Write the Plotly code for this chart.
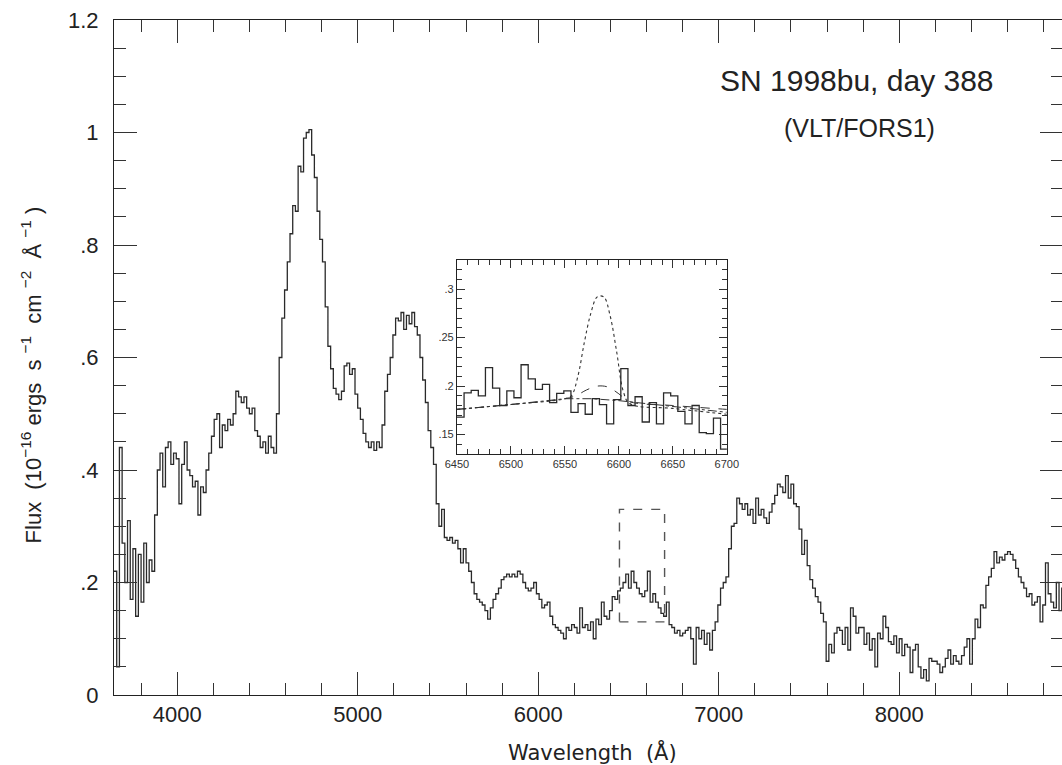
import numpy as np
import plotly.graph_objects as go

# ---------------- data ----------------
WAVE_START = 3650          # Angstrom, left edge of first bin
BIN_WIDTH = 15             # Angstrom
flux = [
    0.22, 0.05, 0.44, 0.27, 0.20, 0.31, 0.17, 0.26, 0.14, 0.25,
    0.165, 0.27, 0.20, 0.24, 0.22, 0.32, 0.40, 0.43, 0.37, 0.44,
    0.45, 0.41, 0.43, 0.42, 0.34, 0.41, 0.45, 0.40, 0.39, 0.37,
    0.38, 0.32, 0.37, 0.36, 0.40, 0.43, 0.46, 0.49, 0.50, 0.44,
    0.48, 0.47, 0.49, 0.48, 0.50, 0.54, 0.53, 0.52, 0.53, 0.51,
    0.50, 0.51, 0.47, 0.46, 0.44, 0.45, 0.43, 0.46, 0.44, 0.43,
    0.50, 0.60, 0.67, 0.72, 0.77, 0.82, 0.87, 0.86, 0.94, 0.93,
    0.99, 1.00, 1.005, 0.96, 0.92, 0.86, 0.81, 0.77, 0.69, 0.62,
    0.58, 0.545, 0.535, 0.525, 0.54, 0.585, 0.59, 0.57, 0.58, 0.535,
    0.51, 0.49, 0.465, 0.45, 0.44, 0.45, 0.435, 0.45, 0.44, 0.48,
    0.54, 0.57, 0.60, 0.64, 0.67, 0.665, 0.68, 0.65, 0.675, 0.66,
    0.68, 0.655, 0.64, 0.60, 0.56, 0.52, 0.47, 0.44, 0.41, 0.34,
    0.30, 0.33, 0.28, 0.275, 0.28, 0.27, 0.275, 0.26, 0.235, 0.26,
    0.235, 0.22, 0.20, 0.18, 0.17, 0.165, 0.16, 0.15, 0.135, 0.155,
    0.17, 0.18, 0.19, 0.205, 0.21, 0.215, 0.21, 0.215, 0.21, 0.22,
    0.215, 0.20, 0.19, 0.185, 0.19, 0.20, 0.18, 0.17, 0.155, 0.16,
    0.165, 0.14, 0.125, 0.12, 0.115, 0.11, 0.10, 0.12, 0.115, 0.125,
    0.12, 0.11, 0.155, 0.12, 0.125, 0.115, 0.13, 0.10, 0.135, 0.125,
    0.165, 0.14, 0.135, 0.15, 0.175, 0.17, 0.185, 0.19, 0.20, 0.215,
    0.19, 0.22, 0.20, 0.19, 0.18, 0.175, 0.185, 0.22, 0.165, 0.18,
    0.165, 0.155, 0.145, 0.14, 0.165, 0.125, 0.12, 0.11, 0.115, 0.105,
    0.11, 0.115, 0.12, 0.10, 0.055, 0.12, 0.10, 0.115, 0.09, 0.11,
    0.08, 0.115, 0.13, 0.16, 0.19, 0.20, 0.21, 0.26, 0.30, 0.305,
    0.35, 0.34, 0.33, 0.34, 0.32, 0.33, 0.305, 0.35, 0.32, 0.33,
    0.315, 0.305, 0.325, 0.34, 0.355, 0.375, 0.37, 0.36, 0.39, 0.35,
    0.375, 0.34, 0.335, 0.295, 0.25, 0.275, 0.23, 0.205, 0.19, 0.175,
    0.165, 0.145, 0.13, 0.06, 0.09, 0.075, 0.11, 0.12, 0.115, 0.09,
    0.12, 0.08, 0.155, 0.14, 0.11, 0.12, 0.12, 0.09, 0.11, 0.08,
    0.10, 0.05, 0.11, 0.10, 0.14, 0.12, 0.095, 0.09, 0.105, 0.075,
    0.10, 0.07, 0.09, 0.085, 0.04, 0.08, 0.09, 0.05, 0.03, 0.045,
    0.025, 0.065, 0.06, 0.06, 0.055, 0.04, 0.05, 0.065, 0.08, 0.055,
    0.07, 0.06, 0.055, 0.07, 0.085, 0.10, 0.055, 0.10, 0.135, 0.12,
    0.16, 0.155, 0.195, 0.21, 0.225, 0.255, 0.235, 0.245, 0.24, 0.25,
    0.255, 0.25, 0.24, 0.225, 0.21, 0.20, 0.19, 0.175, 0.18, 0.16,
    0.165, 0.175, 0.13, 0.16, 0.235, 0.18, 0.165, 0.155, 0.20, 0.15,
    0.19, 0.16,
]

INSET_START = 6450
INSET_BIN = 6.6
inset_flux = [
    0.168, 0.193, 0.1955, 0.190, 0.219, 0.198, 0.180, 0.195, 0.188, 0.222,
    0.2075, 0.1966, 0.2017, 0.183, 0.1925, 0.195, 0.173, 0.182, 0.171, 0.187,
    0.181, 0.161, 0.186, 0.218, 0.180, 0.189, 0.163, 0.183, 0.161, 0.193,
    0.190, 0.174, 0.161, 0.180, 0.152, 0.151, 0.167, 0.135,
]

cont_wave = [6450, 6500, 6550, 6575, 6600, 6650, 6700]
cont_flux = [0.176, 0.181, 0.187, 0.187, 0.185, 0.179, 0.173]

dash_wave = [6450, 6500, 6550, 6560, 6570, 6580, 6590, 6600, 6610, 6650, 6700]
dash_flux = [0.176, 0.181, 0.187, 0.190, 0.196, 0.200, 0.199, 0.192, 0.184, 0.180, 0.176]

dot_wave = [6450, 6500, 6550, 6556, 6562, 6568, 6574, 6580, 6586, 6592, 6598, 6604, 6610, 6650, 6700]
dot_flux = [0.176, 0.181, 0.187, 0.190, 0.210, 0.245, 0.275, 0.292, 0.292, 0.272, 0.235, 0.195, 0.182, 0.177, 0.171]

main_xticks = [4000, 5000, 6000, 7000, 8000]
main_xticklabels = ["4000", "5000", "6000", "7000", "8000"]
main_yticks = [0, 0.2, 0.4, 0.6, 0.8, 1.0, 1.2]
main_yticklabels = ["0", ".2", ".4", ".6", ".8", "1", "1.2"]
inset_xticks = [6450, 6500, 6550, 6600, 6650, 6700]
inset_xticklabels = ["6450", "6500", "6550", "6600", "6650", "6700"]
inset_yticks = [0.15, 0.20, 0.25, 0.30]
inset_yticklabels = [".15", ".2", ".25", ".3"]

zoom_box = dict(x0=6450, x1=6700, y0=0.13, y1=0.33)

# ---------------- build ----------------
n = len(flux)
edges = WAVE_START + BIN_WIDTH * np.arange(n + 1)
yy = list(flux) + [flux[-1]]

ni = len(inset_flux)
iedges = INSET_START + INSET_BIN * np.arange(ni + 1)
iyy = list(inset_flux) + [inset_flux[-1]]

# the capture squeezes the page horizontally; lay out on a slightly wider canvas
S = 1075 / 1062
W, H = 1075, 765
ML, MR, MT, MB = round(112.5 * S), 0, 20, 70
PW, PH = W - ML - MR, H - MT - MB
X_END = 8907

def px2paper_x(px):
    return (px * S - ML) / PW

def py2paper_y(py):
    return (H - MB - py) / PH

LINE = "#2a2a2a"
FONT = "Liberation Sans, Arial, Helvetica, sans-serif"

fig = go.Figure()
fig.add_trace(go.Scatter(x=edges, y=yy, mode="lines", line=dict(color=LINE, width=1.3, shape="hv"),
                         xaxis="x", yaxis="y", showlegend=False, hoverinfo="skip"))

fig.add_trace(go.Scatter(x=cont_wave, y=cont_flux, mode="lines",
                         line=dict(color="#333", width=1, dash="dashdot"),
                         xaxis="x2", yaxis="y2", showlegend=False, hoverinfo="skip"))
fig.add_trace(go.Scatter(x=dash_wave, y=dash_flux, mode="lines", line_shape="spline",
                         line=dict(color="#333", width=1, dash="dash"),
                         xaxis="x2", yaxis="y2", showlegend=False, hoverinfo="skip"))
fig.add_trace(go.Scatter(x=dot_wave, y=dot_flux, mode="lines", line_shape="spline",
                         line=dict(color="#333", width=1.1, dash="dot"),
                         xaxis="x2", yaxis="y2", showlegend=False, hoverinfo="skip"))
fig.add_trace(go.Scatter(x=iedges, y=iyy, mode="lines", line=dict(color=LINE, width=1.3, shape="hv"),
                         xaxis="x2", yaxis="y2", showlegend=False, hoverinfo="skip"))

fig.add_shape(type="rect", xref="x", yref="y", x0=zoom_box["x0"], x1=zoom_box["x1"],
              y0=zoom_box["y0"], y1=zoom_box["y1"],
              line=dict(color="#555", width=1.4, dash="dash"))

axis_common = dict(showline=True, linecolor="#222", linewidth=1, mirror="ticks",
                   ticks="inside", tickcolor="#333", showgrid=False, zeroline=False)

fig.update_layout(
    width=W, height=H,
    margin=dict(l=ML, r=MR, t=MT, b=MB, pad=0),
    paper_bgcolor="white", plot_bgcolor="white",
    font=dict(family=FONT, color="#222"),
    xaxis=dict(domain=[0, 1], range=[WAVE_START, X_END], tickmode="array",
               tickvals=main_xticks, ticktext=main_xticklabels, ticklen=23, tickwidth=1,
               minor=dict(ticks="inside", ticklen=12, dtick=200, tick0=0, tickcolor="#333"),
               tickfont=dict(size=22, family=FONT, color="#222"), anchor="y",
               **axis_common),
    yaxis=dict(domain=[0, 1], range=[0, 1.2], tickmode="array",
               tickvals=main_yticks, ticktext=main_yticklabels, ticklen=23, tickwidth=1,
               minor=dict(ticks="inside", ticklen=12, dtick=0.05, tick0=0, tickcolor="#333"),
               tickfont=dict(size=22, family=FONT, color="#222"), anchor="x",
               ticklabelstandoff=10,
               **axis_common),
    xaxis2=dict(domain=[px2paper_x(455.7), px2paper_x(725.7)], range=[6450, 6700], anchor="y2",
                tickmode="array", tickvals=inset_xticks, ticktext=inset_xticklabels,
                ticklen=8, minor=dict(ticks="inside", ticklen=5, dtick=10, tick0=0, tickcolor="#333"),
                tickfont=dict(size=11, family=FONT, color="#333"),
                **axis_common),
    yaxis2=dict(domain=[py2paper_y(454), py2paper_y(260)], range=[0.13, 0.33], anchor="x2",
                tickmode="array", tickvals=inset_yticks, ticktext=inset_yticklabels,
                ticklen=8, minor=dict(ticks="inside", ticklen=5, dtick=0.01, tick0=0, tickcolor="#333"),
                tickfont=dict(size=11, family=FONT, color="#333"),
                **axis_common),
)

annotations = [
    dict(text="SN 1998bu, day 388", x=px2paper_x(856), y=py2paper_y(80), xref="paper", yref="paper",
         showarrow=False, xanchor="center", yanchor="middle", font=dict(size=30, family=FONT, color="#222")),
    dict(text="(VLT/FORS1)", x=px2paper_x(858), y=py2paper_y(128), xref="paper", yref="paper",
         showarrow=False, xanchor="center", yanchor="middle", font=dict(size=25, family=FONT, color="#222")),
    dict(text="Wavelength  (Å)", x=px2paper_x(591), y=py2paper_y(752), xref="paper", yref="paper",
         showarrow=False, xanchor="center", yanchor="middle", font=dict(size=21, family="DejaVu Sans", color="#222")),
    dict(text="Flux  (10<sup>−16</sup> ergs  s <sup>−1</sup>  cm <sup>−2</sup>  Å <sup>−1</sup> )",
         x=px2paper_x(30), y=py2paper_y(375), xref="paper", yref="paper", textangle=-90,
         showarrow=False, xanchor="center", yanchor="middle", font=dict(size=22, family=FONT, color="#222")),
]
fig.update_layout(annotations=annotations)

fig.write_html(
    "out.html",
    post_script="document.documentElement.style.overflow='hidden';document.body.style.margin='0';document.body.style.overflow='hidden';",
)
